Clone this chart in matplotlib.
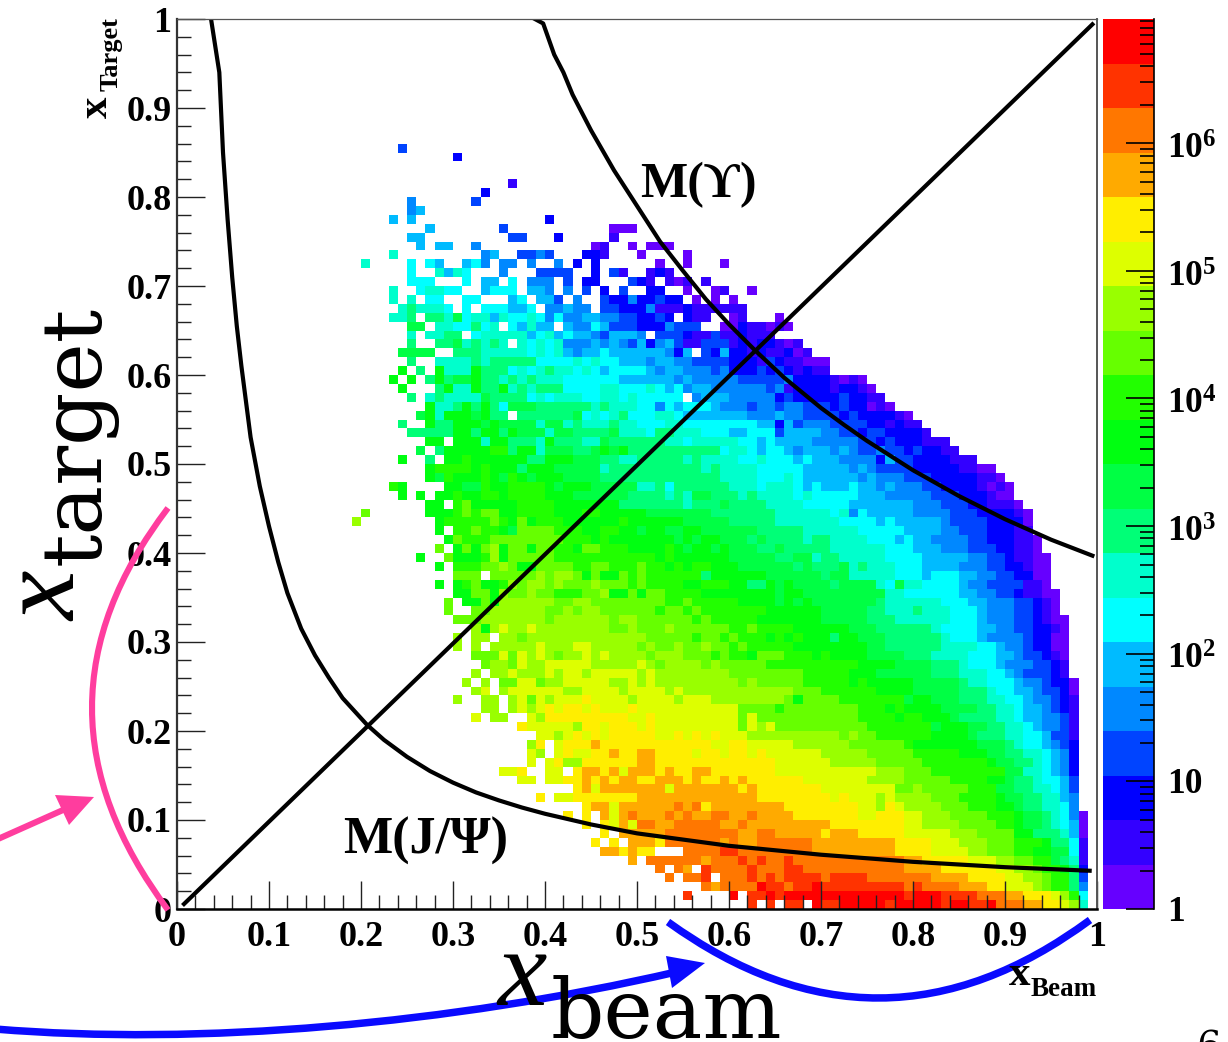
import re
import numpy as np
import matplotlib
matplotlib.use("Agg")
import matplotlib.pyplot as plt
from matplotlib.colors import ListedColormap, LogNorm
from matplotlib.path import Path
from matplotlib.patches import PathPatch, Polygon

plt.rcParams['font.family'] = ['Liberation Serif', 'DejaVu Serif']
plt.rcParams['mathtext.fontset'] = 'custom'
plt.rcParams['mathtext.rm'] = 'Liberation Serif:bold'
plt.rcParams['mathtext.bf'] = 'Liberation Serif:bold'

# colour bands of the z axis, lowest first
band_letters = "abcdefghijklmnopqrst"
band_colors = ["#6600ff", "#3300ff", "#0000ff", "#0044ff", "#0088ff", "#00bbff", "#00ffff",
               "#00ffcc", "#00ff77", "#00ff44", "#00ff11", "#22ff00", "#66ff00", "#99ff00",
               "#ddff00", "#ffee00", "#ffaa00", "#ff7700", "#ff3300", "#ff0000"]
z_top = 9.4e6

# histogram rows, bottom row first. "62s" = from column 62 on the cells are in band s, "." = empty
rows_0_to_14 = [
    "62s 63. 64s 65. 66s 68. 69t 70s 72t 77s 78t 83s 84t 86s 88t 89r 92q 94p 96o 97n 98h 99.",
    "55s 56. 60t 61. 62s 64t 65s 66t 79s 80t 83s 87r 90q 92p 95o 96n 97l 98g 99.",
    "57r 58q 59r 63t 64s 66r 67s 69t 70s 79r 80s 81r 85q 88p 90o 93n 94m 95l 97i 98e 99.",
    "53r 54. 55r 57s 58. 59r 62s 63r 64s 65r 66s 70r 71s 75r 82q 86p 90o 92n 94m 95l 97i 98d 99.",
    "52r 53. 54r 55q 56. 57s 58r 62s 63r 66s 68r 79q 83p 89o 91n 93m 94l 96k 97i 98c 99.",
    "49q 50. 51r 57q 58r 61s 62r 63s 64r 66s 67r 79q 81p 86o 89n 91m 93l 95j 96i 97h 98b 99.",
    "46q 48p 49q 50p 52. 55r 59s 61r 69q 78p 82o 86n 88m 91l 93k 95j 97g 98b 99.",
    "45p 46. 47p 48. 49q 52p 53r 59q 60r 61q 63r 69q 78p 82o 85n 88m 91l 94k 95i 97g 98b 99.",
    "46p 47. 48q 53r 61q 63r 65q 70p 71q 74p 79o 84n 87m 91k 93i 96h 97f 98a 99.",
    "44p 45. 46p 47o 48q 49o 50r 52q 54r 59q 61r 62q 71p 79o 81n 85m 89l 91k 92j 94i 95h 96g 97f 98a 99.",
    "42p 43. 44p 45. 46q 47o 48q 49r 50q 53r 54q 55r 56q 58r 60q 62r 63q 67p 74o 76p 79o 81n 84m 88l 91k 92j 94i 95h 96g 97e 98a 99.",
    "44p 45q 47o 48q 54r 55q 56r 57p 58q 66p 74o 76n 77p 78o 79n 83m 86l 89k 91j 92i 94h 96g 97e 98.",
    "39p 40. 41o 43p 50q 63p 71o 72p 73o 76n 77o 78n 82m 85l 89k 90j 92i 94h 96f 97e 98.",
    "43p 44q 45o 46q 53o 54q 61p 62q 63p 70o 78m 80n 81m 86l 89j 91i 93h 95g 96f 97d 98.",
    "37o 39. 40o 42p 44q 45p 46q 47p 48q 50p 52q 55p 56q 57p 59q 60p 61q 62p 68o 75n 79m 84l 88k 90j 91i 93h 94g 96f 97d 98.",
]
rows_15_to_28 = [
    "35o 37p 38. 40o 42. 43p 44q 46p 47q 48o 49q 52p 53q 54p 56q 58p 65o 76n 79m 82l 90j 92h 94g 95f 96e 97c 98.",
    "38o 39. 40o 41p 42n 44p 50q 52p 65o 71n 76m 81l 88k 89j 91i 93h 94g 95f 96e 97c 98.",
    "38o 39n 40. 41o 42p 43o 45p 47q 48p 50q 52p 56o 57p 59o 60p 62o 63p 64o 70n 75m 80l 85k 88j 90i 92h 94g 95f 96e 97c 98.",
    "38n 39p 40. 41o 42p 45q 46p 58o 60p 62o 67n 73m 79l 80k 87j 90i 91h 92g 94f 95e 96d 97c 98.",
    "39o 41n 42o 43p 44o 45p 46o 47p 52o 54p 55o 56p 57o 58p 59o 62n 72m 73n 74m 76l 82k 86j 87i 90h 92g 94f 95d 97b 98.",
    "37p 38o 43n 44p 46o 47p 50o 51p 52o 61m 62o 63n 64o 65m 75l 82j 83k 86j 88i 90h 92g 93f 94e 96d 97b 98.",
    "32o 33. 34n 36. 38o 39n 40p 49o 51p 52o 61m 62o 63m 74l 78k 79l 81k 84j 85i 89h 91g 92f 94e 96d 97b 98.",
    "33n 35. 36n 37o 38n 39o 40p 41o 42p 44o 45p 46o 49p 50o 61m 65l 66m 74l 77k 78l 79k 83j 87i 89h 91g 92f 94e 95d 96c 97b 98.",
    "30n 31. 33n 35. 36n 37o 38m 39o 40n 41o 44p 45o 49n 50o 54n 55o 58n 66m 67k 68m 72l 79j 80k 82j 85i 88h 90g 92f 93e 95d 96c 97b 98.",
    "32n 33o 34. 35n 36o 42n 44o 48n 49o 53n 54o 55n 67m 70l 76k 80j 85i 88h 89g 91f 93e 94d 96c 97a 98.",
    "31n 32. 33n 34. 35m 37o 39m 40n 42o 47n 49o 50n 51o 52n 61m 62n 63m 68l 73k 74l 75k 80j 85i 86h 88g 91f 92e 94d 95c 97a 98.",
    "32n 33. 34n 36o 37n 40o 41n 42o 44n 45o 50n 51o 52n 60m 68l 73k 76j 82i 85h 88g 90f 91e 92d 95c 96b 97.",
    "33m 34n 36m 37o 38n 40o 45n 50o 51n 52m 53n 57m 58n 59m 64l 74k 78j 82i 85h 86g 89f 90e 93d 95c 96b 97.",
    "32m 35o 36m 37o 38n 39o 40n 41m 42n 44o 45n 46o 47n 51m 52n 55m 58l 59m 60l 62k 63m 66l 69k 70l 71k 75j 79i 82h 86g 89f 91e 92d 94c 95b 96a 97.",
]
rows_29_to_44 = [
    "30n 31. 32n 33. 34n 39o 40n 43o 45n 50m 51n 52m 54n 55m 57n 58m 60l 61m 62l 67k 75j 77i 83h 87g 89f 90e 92d 93c 95a 97.",
    "30n 31. 32n 34. 35n 37m 38n 51m 56l 57m 59l 60m 61l 64k 65l 66k 67l 68k 71i 72k 74j 77i 83h 84g 87f 88e 92d 93c 95a 97.",
    "32n 33k 34n 35o 36n 38o 39n 47m 49n 50m 53n 54m 60l 62m 63l 67k 73j 76i 82h 83g 87f 89e 91d 93c 95b 96a 97.",
    "30m 33n 40m 41n 47m 48n 50m 56l 57m 58l 63k 70j 75i 78h 84g 87f 88e 91d 93c 94b 95a 97.",
    "29m 30. 32m 34n 40m 42n 43m 44n 46m 52l 53m 55l 56m 57l 64k 70j 75i 77h 80i 81h 84g 87f 88e 91d 93c 94b 95a 96.",
    "29m 30. 31k 33m 34k 35n 41m 43n 45m 53l 55m 56l 61k 65j 66k 67j 68k 69j 76i 77h 83g 86f 88e 91d 93c 94b 95a 96.",
    "30k 32m 34k 35n 36m 38n 39m 41l 44m 46n 47k 49m 50k 51m 53l 57k 65j 66k 68j 77h 79g 85f 87e 89d 91c 92b 94a 96.",
    "28k 29. 30k 31l 32m 33k 35l 36n 37m 38n 40m 41n 42m 45n 46m 49l 50m 51l 55k 57l 60k 62i 64k 65j 66k 67j 71i 72j 76h 77g 78j 79h 81g 85f 86e 88d 92b 94a 95.",
    "30m 33. 34m 39n 40m 41n 43m 44k 45m 46k 48m 49l 50m 51l 57i 58k 64j 70i 71j 73h 78g 81f 82g 85f 87e 89d 91c 93a 95.",
    "28k 29. 30l 33m 35n 36m 37k 39m 43l 45m 47l 50m 51l 53k 54l 55k 56l 58k 61j 67i 68j 69i 72j 73h 74i 75h 78g 81f 85e 88d 90c 92b 93a 95.",
    "26k 27. 29m 30k 33l 34n 35k 36m 41l 52k 53l 54k 60j 65i 67j 69h 70i 72h 77g 81f 86e 88d 90c 91b 93a 95.",
    "28m 29. 30k 31m 32k 33m 34n 35k 36m 38k 39m 41l 43k 44m 46l 49k 53l 54k 55j 56k 58j 59k 60j 63i 65j 66i 71h 77g 80f 83e 86d 89c 91b 93a 94.",
    "29k 30m 31l 34m 42l 45k 46l 47k 54j 55k 56j 57k 59j 62i 63j 64i 68h 69i 71h 75g 78f 79g 80f 82e 86d 88c 91b 93a 94.",
    "28k 29. 30l 32m 33l 35k 36j 37m 41l 44k 46l 48k 50j 51k 53j 55k 57j 63i 68h 74g 79f 83e 85d 88c 91b 93.",
    "19n 20. 28k 29l 34m 35l 36k 37m 38k 39l 42k 48l 49k 55j 60i 65h 72g 76f 77g 78f 83e 84d 88c 92a 93.",
    "20m 21. 27k 30l 31m 32l 33m 35k 37l 41k 44l 46k 51j 58i 65h 71g 72h 73e 74g 75f 80e 84d 87c 91b 92a 93.",
]
rows_45_to_59 = [
    "27k 29. 30l 31m 32k 37l 41k 48i 55h 56i 59j 60i 64h 68g 73f 80e 83d 86c 88b 91a 92.",
    "24k 25. 26k 27. 28k 30l 31k 33l 35k 36l 40k 43j 49i 53h 54i 55h 56j 58i 61h 62i 63h 67g 68h 69g 74f 77e 82d 85c 88b 89a 91.",
    "23l 24k 25. 29k 31j 33l 34k 36l 40k 41j 42k 45j 50h 52i 53g 54i 60h 63g 64h 67g 68f 69g 70f 73g 74f 76e 77f 78e 81d 83c 87b 88a 89b 90a 91.",
    "27k 28j 29l 30k 33l 34k 35j 36l 37k 38j 39k 42j 46i 59h 63g 66h 67g 68f 74e 75f 76e 79d 82c 87b 89a 90.",
    "27k 28l 32k 33l 34k 37i 38k 41j 46h 47i 57h 58i 59h 63g 68f 73e 74f 75e 76d 80c 85b 87a 89.",
    "24k 25. 27i 28. 29k 31l 32k 38i 40k 43j 46i 48h 50i 55h 56i 57h 61g 63h 64g 67f 68g 69f 72e 76c 77f 78d 80c 84b 87.",
    "26j 27. 28i 29k 34l 36i 37k 39h 40j 43i 45j 46k 47j 48k 49i 59g 60h 62g 63f 64g 66f 67e 68f 71e 72f 73e 74d 76e 77d 79c 80d 81c 83b 85.",
    "27k 29. 30k 33h 34k 36i 39h 40k 41i 44h 46j 47i 53h 55g 56h 61g 63f 64g 65f 69e 74d 76c 77d 78c 81b 84.",
    "25i 30k 32i 33k 35i 36k 37j 40h 41j 43i 47j 48h 51g 52i 54h 57g 60f 62g 65d 66f 70e 72d 74c 75d 77c 81b 82.",
    "24i 25. 27k 28i 30k 33j 34k 35j 39h 40j 42h 43i 44h 47i 48h 50g 53h 55g 63f 65c 66f 67d 68e 71d 75c 77b 78c 79b 81.",
    "26j 27k 28h 29k 32j 33k 34i 36. 37i 43j 44g 45h 46g 47h 48i 49g 52h 54g 55f 62e 65f 66e 68d 72c 73d 74c 78b 79a 80.",
    "27k 28h 30i 31k 32i 33k 34i 35g 36j 39i 45h 46i 47h 50g 52e 53g 54f 55g 58f 59e 62d 63e 65d 66e 68d 71c 72d 73c 75a 76b 77a 78.",
    "25i 26. 27h 28i 29h 33j 34i 38g 39h 40g 41h 44g 46h 48g 49h 50g 55. 56e 57f 60e 65c 66d 67c 72d 73c 75b 77.",
    "24k 25. 28i 29k 30h 32k 33i 35k 36h 37i 38h 39i 42g 46h 48g 51h 52g 53f 54g 55e 56f 58e 64d 65e 66b 67c 71b 72c 74b 75a 76.",
    "23k 24. 25k 26. 27i 28k 29i 30j 32k 33i 35h 36i 37h 38i 39h 42g 48f 54e 55f 56e 61d 66e 67c 71b 72a 73b 74a 75.",
]
rows_60_to_85 = [
    "24k 25. 26i 27. 28k 29h 32k 33i 36g 37h 38g 39h 40i 41h 43g 44h 45g 46f 47g 51f 52e 53f 55e 58d 59e 60c 63d 64c 65d 66c 67b 68c 69b 71.",
    "25i 26. 28h 32i 33h 34i 39g 43h 44g 45h 46g 48f 51e 52f 54e 56d 60c 63b 64d 65c 66b 68a 71.",
    "24j 28. 30i 33h 38g 39h 40g 41h 42f 43e 44f 46g 47f 53e 54c 55f 56. 57d 58c 59f 60c 62b 63c 64b 66c 67a 68b 69.",
    "25i 26. 28i 30j 31h 32i 33h 34i 35h 36. 37h 38g 39h 40g 41h 42e 45f 46e 47f 48e 49d 50f 51c 52e 53f 54d 55b 57d 60b 61c 62b 63c 65b 66a 67b 68.",
    "25h 26. 27h 29i 31. 32g 33h 38f 39g 40h 41f 42g 43f 45e 46d 47f 50e 51. 52d 55c 56b 58d 59b 61c 62b 65.",
    "25j 27. 28h 30g 32i 33g 34h 35. 36g 37f 38h 39f 41. 42f 43e 45g 46f 47d 50c 53e 54d 57. 59a 61c 62b 64a 65b 66a 67.",
    "23h 25i 26. 27i 29h 30j 31g 32h 34f 35h 36g 38h 39g 40e 41g 42e 44f 46e 48d 50c 52d 53c 54. 55c 56b 58. 60a 61b 62. 65a 66.",
    "24h 25i 26h 29g 30. 31g 32. 33g 36f 38g 39. 40e 42f 43e 45. 46d 48c 51e 52b 55c 56b 62.",
    "23h 24. 25h 26. 27g 29. 31g 33. 36f 37g 38. 39f 41d 42. 43e 44. 46d 47c 49e 50c 52d 53c 55. 56a 57. 58a 59. 60a 61.",
    "23h 24. 26g 27h 29g 31. 33f 34g 37. 38f 40e 41. 42e 43. 44d 45. 46c 47. 48d 49. 51c 53. 55a 56. 58a 59b 60. 62a 63.",
    "25g 28. 31g 32. 33f 35. 36g 37. 38e 41. 42d 43. 44c 46. 49d 50c 51b 52. 53b 54a 55b 56. 57b 58.",
    "25g 26. 28h 29f 30h 31g 32. 35e 36. 39d 43. 45c 46. 47d 48b 49. 51b 52c 53b 54.",
    "20h 21. 25g 26. 27g 28f 29. 31f 32g 33e 34. 35e 37. 38e 39. 41e 42. 43c 44. 45c 46. 52a 53. 55a 56. 59a 60.",
    "23h 24. 33e 34f 35. 37d 39e 40d 41. 44c 46b 47. 50a 51. 55a 56.",
    "26f 27. 28f 30. 32e 33. 45a 46b 47. 49a 50. 51a 54.",
    "25f 27. 36d 38. 41c 42. 47b 48.",
    "27f 28. 35d 36. 47a 50.",
    "23f 24. 25f 26. 40c 41.",
    "25e 26f 27.",
    "25e 26. 32d 33.",
    "33c 34.",
    "36b 37.",
    "",
    "",
    "30c 31.",
    "24d 25.",
]

# mass curves and the x1 = x2 line
jpsi_x = [0.037, 0.046, 0.05, 0.055, 0.06, 0.065, 0.07, 0.075, 0.08, 0.09, 0.10, 0.11, 0.12, 0.135, 0.15,
          0.165, 0.18, 0.2065, 0.225, 0.25, 0.275, 0.30, 0.325, 0.35, 0.375, 0.40, 0.45, 0.50, 0.55, 0.60,
          0.70, 0.80, 0.90, 0.992]
jpsi_y = [1.0, 0.94, 0.85, 0.775, 0.71, 0.655, 0.61, 0.57, 0.53, 0.475, 0.43, 0.39, 0.355, 0.315, 0.285,
          0.26, 0.237, 0.207, 0.19, 0.171, 0.155, 0.142, 0.131, 0.122, 0.114, 0.107, 0.095, 0.085, 0.078, 0.071,
          0.061, 0.053, 0.047, 0.043]
upsilon_x = [0.389, 0.398, 0.41, 0.42, 0.43, 0.44, 0.45, 0.475, 0.50, 0.525, 0.55, 0.575, 0.60, 0.628, 0.66,
             0.70, 0.725, 0.75, 0.80, 0.85, 0.90, 0.95, 0.995]
upsilon_y = [1.0, 0.995, 0.96, 0.94, 0.915, 0.895, 0.875, 0.83, 0.79, 0.75, 0.717, 0.685, 0.657, 0.628, 0.597,
             0.563, 0.544, 0.526, 0.493, 0.464, 0.438, 0.415, 0.397]
diag_x = [0.0076, 0.995]
diag_y = [0.0056, 0.994]

major_ticks = [0, 0.1, 0.2, 0.3, 0.4, 0.5, 0.6, 0.7, 0.8, 0.9, 1]
major_labels = ["0", "0.1", "0.2", "0.3", "0.4", "0.5", "0.6", "0.7", "0.8", "0.9", "1"]
z_ticks = [1, 10, 1e2, 1e3, 1e4, 1e5, 1e6]
z_labels = ["1", "10", r"$\mathbf{10^{2}}$", r"$\mathbf{10^{3}}$", r"$\mathbf{10^{4}}$",
            r"$\mathbf{10^{5}}$", r"$\mathbf{10^{6}}$"]

W, H = 1228, 1042


def axes_px(left, top, right, bottom):
    return [left / W, 1 - bottom / H, (right - left) / W, (bottom - top) / H]


z_edges = np.logspace(0, np.log10(z_top), len(band_letters) + 1)
z_mid = np.sqrt(z_edges[:-1] * z_edges[1:])
band_value = dict(zip(band_letters, z_mid))

all_rows = rows_0_to_14 + rows_15_to_28 + rows_29_to_44 + rows_45_to_59 + rows_60_to_85
counts = np.full((100, 100), np.nan)
for r, row in enumerate(all_rows):
    tokens = re.findall(r"(\d+)([a-t.])", row)
    for (start, band), (stop, _) in zip(tokens, tokens[1:]):
        if band != ".":
            counts[r, int(start):int(stop)] = band_value[band]

fig = plt.figure(figsize=(W / 100, H / 100), dpi=100)
ax = fig.add_axes(axes_px(177, 19, 1097, 909))

edges = np.linspace(0, 1, 101)
cmap = ListedColormap(band_colors)
norm = LogNorm(vmin=1, vmax=z_top)
mesh = ax.pcolormesh(edges, edges, np.ma.masked_invalid(counts), cmap=cmap, norm=norm,
                     antialiased=False, linewidth=0)

ax.plot(jpsi_x, jpsi_y, color="black", lw=3)
ax.plot(upsilon_x, upsilon_y, color="black", lw=3)
ax.plot(diag_x, diag_y, color="black", lw=3)

ax.set_xlim(0, 1)
ax.set_ylim(0, 1)
ax.set_xticks(major_ticks, major_labels)
ax.set_yticks(major_ticks, major_labels)
ax.set_xticks(np.arange(0, 1.001, 0.02), minor=True)
ax.set_yticks(np.arange(0, 1.001, 0.02), minor=True)
ax.tick_params(which="major", direction="in", length=20, width=1, color="#222222",
               labelsize=26, pad=9)
ax.tick_params(axis="y", which="major", pad=4)
ax.tick_params(which="minor", direction="in", length=10, width=1, color="#222222")
for lab in ax.get_xticklabels() + ax.get_yticklabels():
    lab.set_fontweight("bold")
ax.spines["left"].set_linewidth(1.6)
ax.spines["left"].set_color("#333333")
ax.spines["bottom"].set_linewidth(1.8)
ax.spines["top"].set_linewidth(0.9)
ax.spines["top"].set_color("#555555")
ax.spines["right"].set_linewidth(1.4)
ax.spines["right"].set_color("#555555")

ax.text(0.503, 0.80, "M(\u03d2)", fontsize=36, fontweight="bold", va="baseline", ha="left")
ax.text(0.181, 0.062, "M(J/\u03a8)", fontsize=37.5, fontweight="bold", va="baseline", ha="left")

cax = fig.add_axes(axes_px(1103, 19, 1154, 909))
cb = fig.colorbar(mesh, cax=cax)
cb.outline.set_visible(False)
cax.spines["right"].set_visible(True)
cax.spines["right"].set_linewidth(1.2)
cax.set_yticks(z_ticks, [""] * len(z_ticks))
minor_z = [m * 10.0 ** d for d in range(7) for m in range(2, 10) if m * 10.0 ** d < z_top]
cax.set_yticks(minor_z, minor=True)
cax.tick_params(which="major", direction="in", length=20, width=1.2, right=True)
cax.tick_params(which="minor", direction="in", length=10, width=1.2, right=True, labelright=False)
for z, label in zip(z_ticks, z_labels):
    dy = -5 if label.startswith("$") else -2.2
    cax.annotate(label, xy=(1, z), xycoords=cax.get_yaxis_transform(), xytext=(9.5, dy),
                 textcoords="offset points", fontsize=25.5, fontweight="bold", ha="left", va="center")

# hand drawn arrows and the big labels are placed in pixels over the whole figure
over = fig.add_axes([0, 0, 1, 1])
over.set_xlim(0, W)
over.set_ylim(H, 0)
over.axis("off")
over.patch.set_alpha(0)

pink = "#ff3d9e"
blue = "#0a0aff"
over.add_patch(PathPatch(Path([(168, 508), (16, 707), (168, 910)], [Path.MOVETO, Path.CURVE3, Path.CURVE3]),
                         fc="none", ec=pink, lw=4.4))
over.plot([-2, 72], [839, 806], color=pink, lw=4.4)
over.add_patch(Polygon([(94, 797), (55, 795), (69, 825)], closed=True, fc=pink, ec="none"))

over.add_patch(PathPatch(Path([(668, 922), (880, 1075), (1090, 920)], [Path.MOVETO, Path.CURVE3, Path.CURVE3]),
                         fc="none", ec=blue, lw=5.4))
over.add_patch(PathPatch(Path([(-5, 1029), (200, 1046), (450, 1024), (676, 972)],
                              [Path.MOVETO, Path.CURVE4, Path.CURVE4, Path.CURVE4]),
                         fc="none", ec=blue, lw=5.4))
over.add_patch(Polygon([(705, 963), (666, 956), (672, 988)], closed=True, fc=blue, ec="none"))

over.text(75, 621, "x", fontsize=80, family="Liberation Serif", style="italic", rotation=90,
          rotation_mode="anchor", ha="left", va="baseline")
over.text(100, 565, "target", fontsize=60, family="DejaVu Serif", rotation=90,
          rotation_mode="anchor", ha="left", va="baseline")
over.text(497, 1005, "x", fontsize=80, family="Liberation Serif", style="italic",
          ha="left", va="baseline")
over.text(551, 1038, "beam", fontsize=60, family="DejaVu Serif", ha="left", va="baseline")

over.text(107, 118, "x", fontsize=31, fontweight="bold", rotation=90, rotation_mode="anchor",
          ha="left", va="baseline")
over.text(118, 91, "Target", fontsize=19, fontweight="bold", rotation=90, rotation_mode="anchor",
          ha="left", va="baseline")
over.text(1009, 985, "x", fontsize=31, fontweight="bold", ha="left", va="baseline")
over.text(1031, 996, "Beam", fontsize=19.5, fontweight="bold", ha="left", va="baseline")
over.text(1196, 1030, "6", fontsize=28, family="DejaVu Serif", ha="left", va="top")

fig.savefig("out.png", dpi=100)
